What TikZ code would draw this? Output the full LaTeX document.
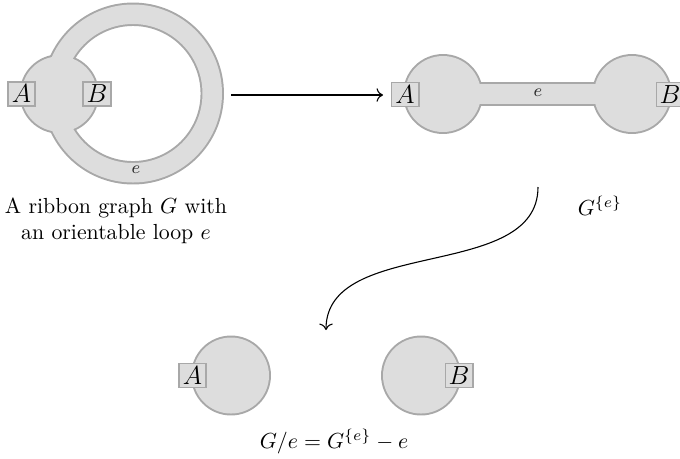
\documentclass[tikz,border=0pt]{standalone}
\usetikzlibrary{arrows.meta}
\definecolor{ribfill}{RGB}{221,221,221}
\definecolor{ribline}{RGB}{168,168,168}
\begin{document}
\begin{tikzpicture}[x=0.4585pt,y=-0.4585pt,
  vbox/.style={draw=ribline,fill=ribfill,line width=0.9pt,inner sep=1pt,
    minimum width=12.4pt,minimum height=11pt,font=\large},
  edgestroke/.style={draw=ribline,line width=1.8pt},
  bodyfill/.style={fill=ribfill},
  elabel/.style={font=\footnotesize,text=black!85},
  maplabel/.style={font=\normalsize},
  maparrow/.style={-{To[scale=1.1]},line width=0.5pt}]
\useasboundingbox (0,0) rectangle (680,458);

% ---- left: ribbon graph G with a loop ----
\draw[edgestroke] (59.3,94) circle[radius=37.7];
\draw[edgestroke] (133,93.5) circle[radius=89];
\draw[edgestroke] (133,93.5) circle[radius=69.5];
\fill[bodyfill,even odd rule] (133,93.5) circle[radius=89] (133,93.5) circle[radius=69.5];
\fill[bodyfill] (59.3,94) circle[radius=37.7];
\node[vbox] (A1) at (21.5,94) {$A$};
\node[vbox] (B1) at (97,94) {$B$};
\node[elabel] (e1) at (136,170) {$e$};

% ---- right: G^{e} ----
\draw[edgestroke] (443,94) circle[radius=38];
\draw[edgestroke] (632,94) circle[radius=38];
\draw[edgestroke] (443,84) rectangle (632,104);
\fill[bodyfill] (443,94) circle[radius=38];
\fill[bodyfill] (632,94) circle[radius=38];
\fill[bodyfill] (443,84) rectangle (632,104);
\node[vbox] (A2) at (405,94.5) {$A$};
\node[vbox] (B2) at (670,94.5) {$B$};
\node[elabel] (e2) at (538,93) {$e$};

% ---- bottom: G/e ----
\draw[edgestroke] (231,375.5) circle[radius=38];
\draw[edgestroke] (421,375.5) circle[radius=38];
\fill[bodyfill] (231,375.5) circle[radius=38];
\fill[bodyfill] (421,375.5) circle[radius=38];
\node[vbox] (A3) at (192.5,375.5) {$A$};
\node[vbox] (B3) at (459,375.5) {$B$};

% ---- labels ----
\node[maplabel,align=center] (capG) at (116,221) {A ribbon graph $G$ with\\ an orientable loop $e$};
\node[maplabel,anchor=base] (capGe) at (600,215) {$G^{\{e\}}$};
\node[maplabel,anchor=base] (capGc) at (334,448) {$G/e = G^{\{e\}} - e$};

% ---- arrows ----
\coordinate (s1) at (231,95);
\coordinate (t1) at (383,95);
\draw[maparrow] (s1) -- (t1);
\coordinate (s2) at (538,187);
\coordinate (t2) at (326,330);
\draw[maparrow] (s2) .. controls (538,282) and (326,236) .. (t2);
\end{tikzpicture}
\end{document}
